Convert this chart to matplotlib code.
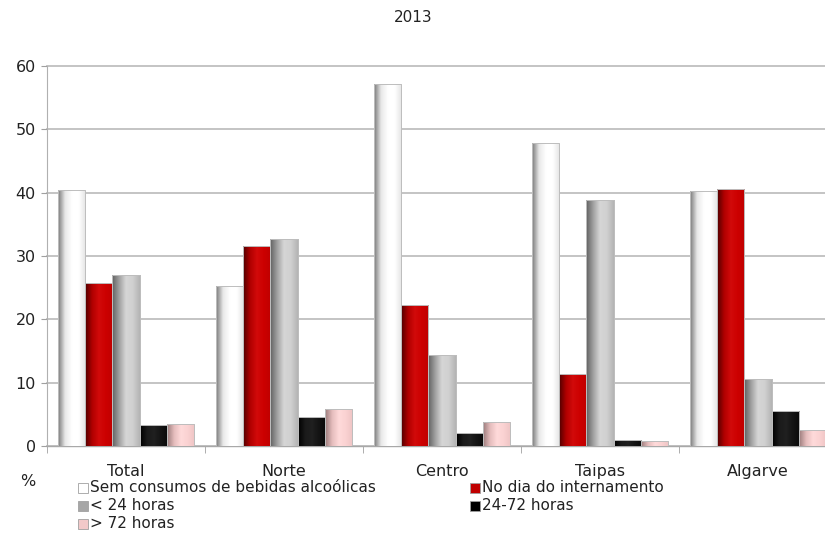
import numpy as np
import matplotlib
matplotlib.use("Agg")
import matplotlib.pyplot as plt
from matplotlib.colors import LinearSegmentedColormap
from matplotlib.patches import Rectangle

# --- DATA ---
title = "2013"
categories = ["Total", "Norte", "Centro", "Taipas", "Algarve"]
series_names = ["Sem consumos de bebidas alcoólicas", "No dia do internamento",
                "< 24 horas", "24-72 horas", "> 72 horas"]
sem_consumos = [40.5, 25.2, 57.2, 47.8, 40.3]
no_dia = [25.8, 31.6, 22.3, 11.3, 40.6]
menos_24h = [27.0, 32.7, 14.3, 38.9, 10.6]
h24_72 = [3.3, 4.6, 2.1, 0.9, 5.5]
mais_72h = [3.4, 5.8, 3.8, 0.8, 2.6]
series_values = [sem_consumos, no_dia, menos_24h, h24_72, mais_72h]

# flat colours (legend) and cylinder-like gradients (bars)
flat_colors = ["#FFFFFF", "#C00000", "#A6A6A6", "#000000", "#F2C9C9"]
gradients = [
    ["#7A7A7A", "#E8E8E8", "#FFFFFF", "#FFFFFF", "#E4E4E4"],
    ["#500000", "#B00000", "#D20A0A", "#CC0000", "#C00000"],
    ["#606060", "#A0A0A0", "#D6D6D6", "#D0D0D0", "#B4B4B4"],
    ["#000000", "#1A1A1A", "#202020", "#141414", "#0A0A0A"],
    ["#9C7C7C", "#E4BCBC", "#FFDADA", "#FAD2D2", "#EEC4C4"],
]

plt.rcParams['font.family'] = ['DejaVu Sans']
fig = plt.figure(figsize=(8.25, 5.35), dpi=100)
W, H = 825, 535
ax = fig.add_axes([47 / W, 1 - 446 / H, (837 - 47) / W, (446 - 66) / H])

x = np.arange(len(categories))
bw = 0.171
grad = np.linspace(0, 1, 64).reshape(1, -1)
for i, (vals, cols) in enumerate(zip(series_values, gradients)):
    bars = ax.bar(x + (i - 2) * bw, vals, width=bw, color=flat_colors[i],
                  edgecolor="#BDBDBD", linewidth=0.7, zorder=3)
    cmap = LinearSegmentedColormap.from_list(f"g{i}", cols)
    for b in bars:
        im = ax.imshow(grad, cmap=cmap, aspect="auto", interpolation="bilinear",
                       extent=[b.get_x(), b.get_x() + b.get_width(), 0, b.get_height()],
                       zorder=3.5)
        im.set_clip_path(b)
    # outline on top
    ax.bar(x + (i - 2) * bw, vals, width=bw, facecolor="none",
           edgecolor="#BDBDBD", linewidth=0.7, zorder=4)

ax.set_xlim(-0.5, len(categories) - 0.5)
ax.set_ylim(0, 60)
ax.set_yticks(range(0, 61, 10))
ax.yaxis.grid(True, color="#BFBFBF", linewidth=1.3, zorder=0)
for gl in ax.get_ygridlines():
    gl.set_clip_on(False)
ax.set_axisbelow(True)
ax.set_xticks(x)
ax.set_xticklabels(categories, fontsize=11.5)
ax.set_xticks(np.arange(-0.5, len(categories), 1.0), minor=True)
ax.tick_params(axis="x", which="major", length=0, pad=13, colors="#222222")
ax.tick_params(axis="x", which="minor", length=5, color="#A0A0A0", direction="out")
ax.tick_params(axis="y", length=4, color="#A0A0A0", labelsize=11.5, pad=4, labelcolor="#222222")
for s in ["top", "right"]:
    ax.spines[s].set_visible(False)
ax.spines["left"].set_color("#B0B0B0")
ax.spines["bottom"].set_color("#A8A8A8")
ax.spines["bottom"].set_linewidth(1.0)

fig.text(413 / W, 1 - 18 / H, title, ha="center", va="center", fontsize=11, color="#222222")
fig.text(28 / W, 1 - 481 / H, "%", ha="center", va="center", fontsize=11.5, color="#222222")

# legend, laid out in two columns as in the reference
legend_pos = [(78, 488), (470, 488), (78, 506), (470, 506), (78, 524)]
for (px, py), name, col in zip(legend_pos, series_names, flat_colors):
    fig.patches.append(Rectangle((px / W, 1 - (py + 5) / H), 10 / W, 10 / H,
                                 transform=fig.transFigure, facecolor=col,
                                 edgecolor="#A0A0A0", linewidth=0.6))
    fig.text((px + 12) / W, 1 - py / H, name, ha="left", va="center",
             fontsize=11, color="#222222")

fig.savefig("out.png", dpi=100)
